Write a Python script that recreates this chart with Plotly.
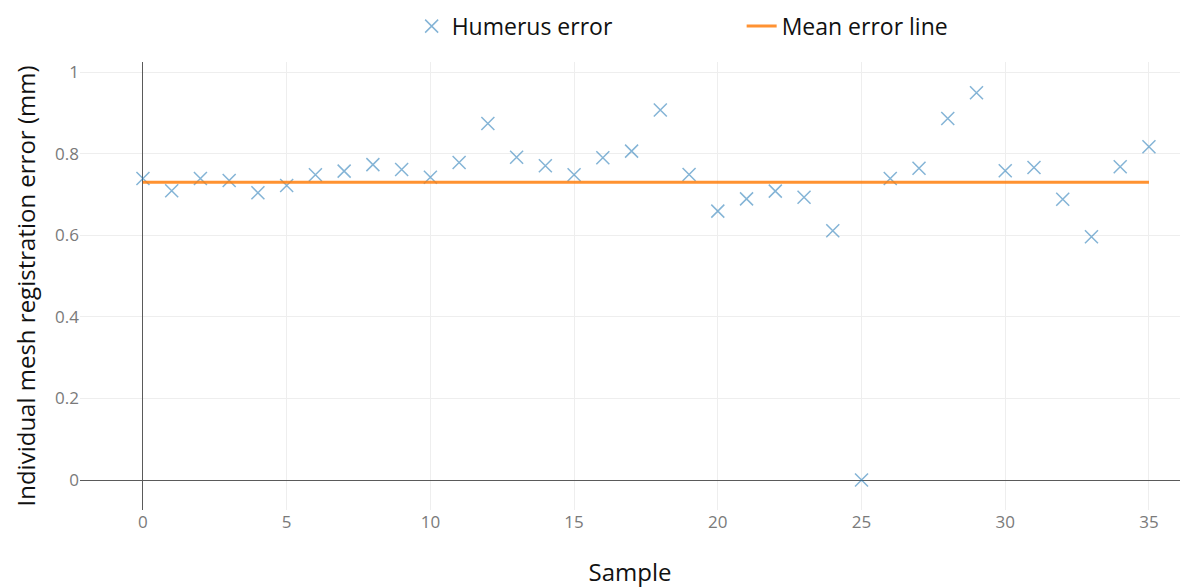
import plotly.graph_objects as go

# Per-sample humerus mesh registration error (mm)
samples = list(range(36))
humerus_error = [
    0.739, 0.709, 0.739, 0.734, 0.704, 0.722, 0.748, 0.757, 0.773, 0.761,
    0.742, 0.778, 0.874, 0.791, 0.770, 0.748, 0.790, 0.806, 0.907, 0.749,
    0.659, 0.689, 0.708, 0.693, 0.611, 0.000, 0.739, 0.764, 0.886, 0.949,
    0.758, 0.766, 0.688, 0.596, 0.768, 0.817,
]

# Mean error reference line
mean_x = [0, 35]
mean_error = [0.730, 0.730]

font_family = "Open Sans, DejaVu Sans, sans-serif"

fig = go.Figure()
fig.add_trace(go.Scatter(
    x=samples,
    y=humerus_error,
    mode="markers",
    name="Humerus error",
    marker=dict(
        symbol="x-thin-open",
        size=13,
        color="rgba(31,119,180,0.55)",
        line=dict(width=1.5, color="rgba(31,119,180,0.55)"),
    ),
))
fig.add_trace(go.Scatter(
    x=mean_x,
    y=mean_error,
    mode="lines",
    name="Mean error line",
    line=dict(color="#ff7f0e", width=3),
    opacity=0.85,
))

axis_common = dict(
    automargin=False,
    showgrid=True,
    gridcolor="#eeeeee",
    gridwidth=1,
    zeroline=True,
    zerolinecolor="#5a5a5a",
    zerolinewidth=1.2,
    showline=False,
    ticks="",
    tickfont=dict(family=font_family, size=17, color="#7a7a7a"),
    title_font=dict(family=font_family, size=24, color="#111111"),
)

fig.update_layout(
    width=1196,
    height=588,
    margin=dict(l=80, r=16, t=62, b=78, autoexpand=False),
    paper_bgcolor="white",
    plot_bgcolor="white",
    font=dict(family=font_family),
    showlegend=True,
    legend=dict(
        orientation="h",
        x=0.6015,
        xanchor="center",
        y=1.08,
        yanchor="middle",
        font=dict(family=font_family, size=23, color="#111111"),
        itemwidth=30,
        entrywidth=285,
        tracegroupgap=0,
    ),
    xaxis=dict(
        axis_common,
        range=[-2.19, 36.08],
        dtick=5,
        tick0=0,
        title=dict(text="Sample", standoff=36),
    ),
    yaxis=dict(
        axis_common,
        range=[-0.0735, 1.0245],
        dtick=0.2,
        tick0=0,
        title=dict(text="Individual mesh registration error (mm)", standoff=12),
    ),
)

fig.write_html("out.html")
